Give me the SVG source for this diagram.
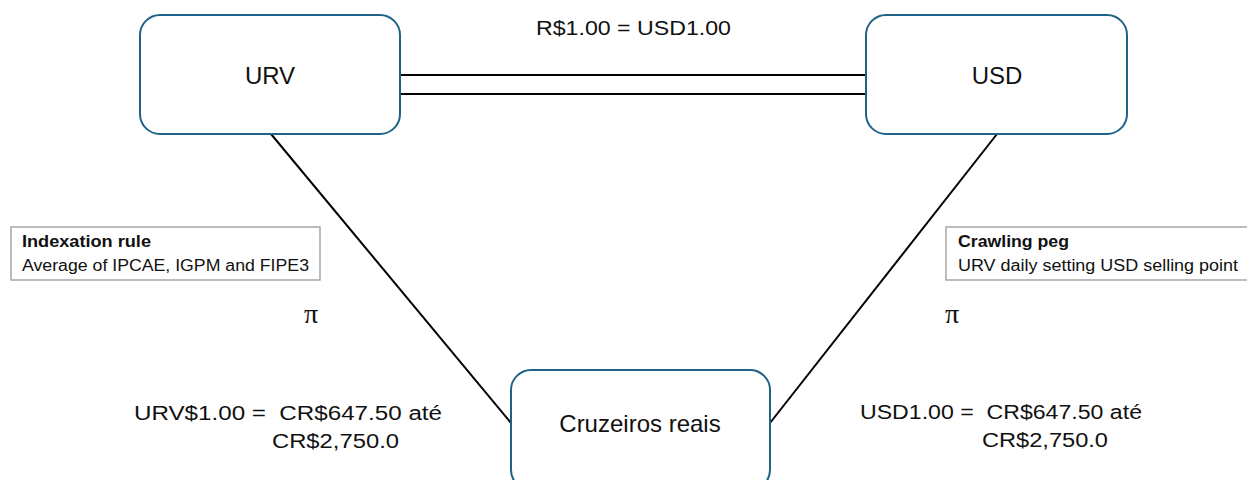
<svg xmlns="http://www.w3.org/2000/svg" width="1247" height="480" viewBox="0 0 1247 480">
  <style>
    .node { fill: #ffffff; stroke: #1f6287; stroke-width: 2; }
    .conn { stroke: #000000; stroke-width: 2; fill: none; }
    .lbl { font-family: "Liberation Sans", Arial, sans-serif; fill: #111111; white-space: pre; }
    .big { font-size: 24px; }
    .mid { font-size: 20px; }
    .note { fill: #ffffff; stroke: #a6a6a6; stroke-width: 1.5; }
    .nt { font-family: "Liberation Sans", Arial, sans-serif; font-size: 16px; fill: #111111; }
    .pi { font-family: "Liberation Serif", "Times New Roman", serif; font-size: 28px; fill: #111111; }
  </style>
  <rect width="1247" height="480" fill="#ffffff"/>

  <g id="connectors">
    <line class="conn" x1="400" y1="75" x2="866" y2="75"/>
    <line class="conn" x1="400" y1="94" x2="866" y2="94"/>
    <line class="conn" x1="271" y1="134" x2="511" y2="423"/>
    <line class="conn" x1="997" y1="134" x2="770" y2="423"/>
  </g>

  <g id="node-urv">
    <rect class="node" x="140" y="15" width="260" height="119" rx="20"/>
    <text class="lbl big" x="270" y="84" text-anchor="middle">URV</text>
  </g>

  <g id="node-usd">
    <rect class="node" x="866" y="15" width="261" height="119" rx="20"/>
    <text class="lbl big" x="997" y="84" text-anchor="middle">USD</text>
  </g>

  <g id="node-cruzeiros">
    <rect class="node" x="511" y="370" width="259" height="120" rx="20"/>
    <text class="lbl big" x="640" y="432" text-anchor="middle">Cruzeiros reais</text>
  </g>

  <g id="peg-label">
    <text class="lbl mid" x="536" y="35" textLength="195" lengthAdjust="spacingAndGlyphs">R$1.00 = USD1.00</text>
  </g>

  <g id="note-indexation">
    <rect class="note" x="11" y="227" width="309" height="53"/>
    <text class="nt" x="22" y="247" font-weight="bold" textLength="129" lengthAdjust="spacingAndGlyphs">Indexation rule</text>
    <text class="nt" x="22" y="271" textLength="287" lengthAdjust="spacingAndGlyphs">Average of IPCAE, IGPM and FIPE3</text>
  </g>

  <g id="note-crawling">
    <rect class="note" x="946" y="227" width="310" height="53"/>
    <text class="nt" x="958" y="247" font-weight="bold" textLength="111" lengthAdjust="spacingAndGlyphs">Crawling peg</text>
    <text class="nt" x="958" y="271" textLength="280" lengthAdjust="spacingAndGlyphs">URV daily setting USD selling point</text>
  </g>

  <text class="pi" x="304" y="323">π</text>
  <text class="pi" x="945" y="323">π</text>

  <g id="rate-urv">
    <text class="lbl mid" x="134" y="420" textLength="308" lengthAdjust="spacingAndGlyphs">URV$1.00 =  CR$647.50 até</text>
    <text class="lbl mid" x="272" y="448" textLength="127" lengthAdjust="spacingAndGlyphs">CR$2,750.0</text>
  </g>

  <g id="rate-usd">
    <text class="lbl mid" x="860" y="419" textLength="282" lengthAdjust="spacingAndGlyphs">USD1.00 =  CR$647.50 até</text>
    <text class="lbl mid" x="982" y="447" textLength="126" lengthAdjust="spacingAndGlyphs">CR$2,750.0</text>
  </g>
</svg>
